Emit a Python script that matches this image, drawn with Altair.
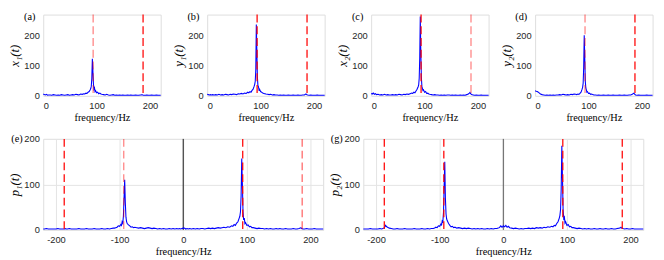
import altair as alt
import pandas as pd

# frequency grid (Hz) used by every spectrum
F_TOP = [0, 2, 4, 6, 8, 10,
         13, 16, 19, 22, 25, 28, 31, 34, 37, 40, 43, 46, 49, 52, 55, 58, 61, 64, 67, 70, 73, 76,
         78, 80, 82, 84, 86, 88,
         89, 90, 91, 92, 93, 94, 95, 96, 97, 98,
         100, 102, 104, 106, 108, 110,
         113, 116, 119, 122, 125, 128, 131, 134, 137, 140, 143, 146, 149, 152, 155, 158, 161, 164, 167, 170, 173, 176, 179, 182,
         184, 185, 186, 188,
         191, 194, 197, 200, 203, 206, 209, 212, 215, 218,
         220]

X1 = [6, 4, 3, 5, 2, 3,
      3, 2, 4, 3, 2, 3, 2, 4, 3, 2, 3, 4, 2, 3, 4, 3, 5, 4, 3, 6, 5, 7,
      6, 9, 8, 12, 14, 20,
      24, 32, 58, 122, 82, 40, 22, 26, 14, 17,
      10, 12, 7, 9, 6, 5,
      4, 3, 5, 3, 2, 3, 4, 2, 3, 2, 3, 2, 3, 2, 2, 3, 2, 3, 2, 2, 3, 2, 2, 3,
      3, 4, 3, 2,
      2, 3, 2, 2, 3, 2, 2, 3, 2, 2,
      2]
Y1 = [5, 4, 3, 4, 3, 4,
      3, 4, 3, 5, 3, 4, 3, 5, 4, 3, 5, 4, 6, 5, 4, 7, 6, 8, 6, 9, 8, 12,
      10, 14, 12, 18, 22, 32,
      38, 48, 85, 235, 150, 62, 34, 30, 20, 22,
      14, 12, 9, 8, 7, 6,
      5, 4, 5, 3, 4, 3, 3, 2, 3, 2, 3, 2, 2, 3, 2, 2, 3, 2, 2, 3, 2, 2, 3, 3,
      5, 6, 4, 3,
      2, 3, 2, 2, 2, 3, 2, 2, 2, 2,
      2]
X2 = [8, 6, 9, 5, 7, 4,
      5, 3, 4, 3, 5, 3, 4, 3, 3, 4, 3, 4, 3, 5, 4, 3, 5, 4, 6, 5, 7, 9,
      8, 12, 10, 16, 22, 30,
      36, 58, 125, 262, 145, 62, 32, 24, 18, 20,
      12, 14, 8, 9, 6, 5,
      4, 3, 4, 3, 3, 2, 3, 2, 3, 2, 3, 3, 2, 3, 2, 3, 2, 2, 3, 2, 3, 2, 4, 6,
      9, 11, 8, 4,
      3, 2, 3, 2, 2, 3, 2, 2, 2, 2,
      2]
Y2 = [17, 15, 14, 12, 9, 6,
      4, 3, 2, 3, 2, 3, 2, 3, 2, 3, 3, 4, 3, 5, 4, 3, 4, 3, 5, 4, 6, 5,
      4, 6, 5, 8, 12, 22,
      28, 42, 95, 200, 125, 48, 26, 20, 12, 14,
      8, 9, 5, 6, 4, 3,
      3, 2, 3, 2, 2, 3, 2, 2, 3, 2, 2, 3, 2, 2, 2, 3, 2, 2, 3, 2, 2, 3, 3, 5,
      8, 9, 6, 3,
      2, 3, 2, 2, 2, 2, 3, 2, 2, 2,
      2]

# two-sided spectra: *_NEG is the value at -F_TOP[i], *_POS at +F_TOP[i]
P1_NEG = [4, 3, 2, 3, 2, 3,
          2, 3, 2, 3, 2, 2, 3, 2, 3, 2, 3, 4, 3, 4, 5, 4, 3, 4, 5, 4, 5, 6,
          5, 7, 6, 9, 11, 14,
          18, 28, 60, 110, 70, 30, 15, 18, 10, 12,
          8, 9, 6, 5, 4, 4,
          3, 2, 3, 2, 2, 3, 2, 2, 2, 3, 2, 2, 2, 3, 2, 2, 2, 3, 2, 2, 2, 2, 3, 2,
          2, 3, 2, 2,
          2, 2, 3, 2, 2, 2, 2, 2, 3, 2,
          2]
P1_POS = [3, 4, 2, 3, 2, 3,
          2, 3, 2, 3, 2, 3, 3, 2, 3, 4, 3, 4, 3, 4, 5, 4, 5, 6, 5, 7, 6, 9,
          8, 12, 10, 15, 18, 26,
          30, 40, 75, 157, 100, 40, 22, 26, 14, 16,
          10, 11, 7, 8, 5, 5,
          4, 3, 4, 3, 3, 2, 3, 2, 3, 2, 2, 3, 2, 3, 2, 2, 3, 2, 2, 2, 3, 2, 2, 3,
          4, 5, 3, 2,
          2, 3, 2, 2, 2, 3, 2, 2, 2, 2,
          2]
P2_NEG = [8, 6, 9, 5, 4, 3,
          3, 2, 3, 2, 3, 2, 2, 3, 2, 3, 2, 3, 2, 3, 4, 3, 4, 3, 4, 5, 4, 6,
          5, 8, 7, 10, 14, 20,
          24, 35, 70, 150, 95, 38, 18, 20, 11, 13,
          8, 9, 5, 6, 4, 3,
          3, 2, 3, 2, 2, 3, 2, 2, 2, 3, 2, 2, 2, 2, 3, 2, 2, 2, 3, 2, 2, 3, 4, 6,
          8, 10, 7, 4,
          2, 3, 2, 2, 2, 2, 3, 2, 2, 2,
          2]
P2_POS = [9, 7, 10, 6, 8, 5,
          4, 3, 4, 3, 2, 3, 2, 3, 3, 4, 3, 4, 3, 5, 4, 5, 4, 6, 5, 7, 6, 8,
          7, 10, 9, 14, 18, 26,
          32, 45, 90, 185, 115, 45, 25, 28, 15, 18,
          10, 12, 7, 8, 5, 5,
          4, 3, 4, 3, 2, 3, 2, 3, 2, 2, 3, 2, 2, 3, 2, 2, 3, 2, 2, 3, 2, 2, 3, 4,
          5, 6, 4, 3,
          2, 3, 2, 2, 3, 2, 2, 2, 2, 2,
          2]

MARK_TOP = [93.5, 187]
MARK_BOT = [-187, -93.5, 93.5, 187]

SANS = "Liberation Sans"
SERIF = "Liberation Serif"
BLUE = "#0000ff"
RED = "#ff0000"


def y_axis(title, grid=False):
    return alt.Axis(values=[0, 100, 200], title=title, grid=grid, gridColor="#e3e3e3",
                    domain=False, ticks=False, labelFont=SANS, labelFontSize=9.5,
                    labelColor="#262626", labelPadding=4, minExtent=20, maxExtent=20,
                    titleFont=SERIF, titleFontSize=13, titleFontStyle="italic",
                    titleFontWeight="normal", titleColor="black", titlePadding=2)


def x_axis(values, grid=False):
    return alt.Axis(values=values, title="frequency/Hz", grid=grid, gridColor="#e3e3e3",
                    domain=False, ticks=False, labelFont=SANS, labelFontSize=9.5,
                    labelColor="#262626", labelPadding=5,
                    labelExpr="datum.value < 0 ? '-' + abs(datum.value) : '' + datum.value",
                    titleFont=SERIF, titleFontSize=10.5, titleFontWeight="normal",
                    titleColor="black", titlePadding=3)


def tag_layer(text, dx, dy):
    return alt.Chart(pd.DataFrame({"t": [text]})).mark_text(
        font=SERIF, fontSize=10.5, align="right", baseline="middle", color="black"
    ).encode(text="t:N", x=alt.value(dx), y=alt.value(dy))


def red_layer(pos, alphas):
    return alt.Chart(pd.DataFrame({"f": pos, "o": alphas})).mark_rule(
        color=RED, strokeDash=[8, 4], strokeWidth=1.4
    ).encode(x="f:Q", opacity=alt.Opacity("o:Q", scale=None))


def top_panel(vals, tag, ytitle, alphas):
    df = pd.DataFrame({"f": F_TOP, "a": vals})
    line = alt.Chart(df).mark_line(color=BLUE, strokeWidth=1.1).encode(
        x=alt.X("f:Q", scale=alt.Scale(domain=[0, 220], nice=False), axis=x_axis([0, 100, 200])),
        y=alt.Y("a:Q", scale=alt.Scale(domain=[0, 268], nice=False), axis=y_axis(ytitle)),
    )
    return alt.layer(line, red_layer(MARK_TOP, alphas), tag_layer(tag, -8, 3)).properties(width=120, height=83)


def bottom_panel(neg, pos, tag, ytitle, alphas, zero_color):
    f = [-v for v in F_TOP] + F_TOP
    df = pd.DataFrame({"f": f, "a": neg + pos})
    zero = alt.Chart(pd.DataFrame({"f": [0]})).mark_rule(color=zero_color, strokeWidth=1).encode(x="f:Q")
    line = alt.Chart(df).mark_line(color=BLUE, strokeWidth=1.1).encode(
        x=alt.X("f:Q", scale=alt.Scale(domain=[-220, 220], nice=False),
                axis=x_axis([-200, -150, -100, -50, 0, 50, 100, 150, 200], grid=True)),
        y=alt.Y("a:Q", scale=alt.Scale(domain=[0, 200], nice=False), axis=y_axis(ytitle, grid=True)),
    )
    return alt.layer(zero, line, red_layer(MARK_BOT, alphas), tag_layer(tag, -21, 0)).properties(width=286, height=93)


top = alt.hconcat(
    top_panel(X1, "(a)", "x\u2081(t)", [0.45, 0.9]),
    top_panel(Y1, "(b)", "y\u2081(t)", [0.9, 0.9]),
    top_panel(X2, "(c)", "x\u2082(t)", [0.9, 0.45]),
    top_panel(Y2, "(d)", "y\u2082(t)", [0.45, 0.9]),
    spacing=8.5,
)
bottom = alt.hconcat(
    bottom_panel(P1_NEG, P1_POS, "(e)", "p\u2081(t)", [0.9, 0.45, 0.9, 0.55], "#111111"),
    bottom_panel(P2_NEG, P2_POS, "(g)", "p\u2082(t)", [0.9, 0.9, 0.9, 0.9], "#555555"),
    spacing=2,
)

chart = alt.vconcat(top, bottom, spacing=9).properties(
    padding={"left": 0, "top": 1, "right": 0, "bottom": 0}
).configure_view(stroke="#6e6e6e", strokeWidth=1).configure(background="white")

chart.save("out.html", embed_options={"renderer": "svg", "actions": False})
